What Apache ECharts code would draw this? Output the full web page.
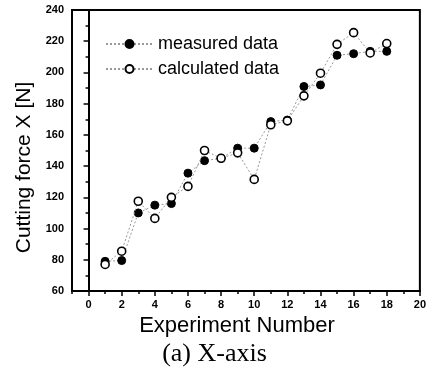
<!DOCTYPE html>
<html>
<head>
<meta charset="utf-8">
<script src="https://cdn.jsdelivr.net/npm/echarts@6/dist/echarts.min.js"></script>
<style>
  html, body { margin: 0; padding: 0; background: #fff; }
  #chart { width: 429px; height: 372px; }
</style>
</head>
<body>
<div id="chart"></div>
<script>
// Experiment index and the two force series (N)
const experiments = [1, 2, 3, 4, 5, 6, 7, 8, 9, 10, 11, 12, 13, 14, 15, 16, 17, 18];
const measured = [79, 79.5, 110, 115, 116, 135.5, 143.5, 145, 151.5, 151.5, 168.5, 169.5, 191, 192, 211, 212, 213.5, 213.5];
const calculated = [77, 85.5, 117.5, 106.5, 120, 127, 150, 145, 148.5, 131.5, 166.5, 169, 185, 199.5, 218, 225.5, 212.5, 218.5];

// Axis tick positions
const xMajorTicks = [0, 2, 4, 6, 8, 10, 12, 14, 16, 18, 20];
const xMinorTicks = [-1, 1, 3, 5, 7, 9, 11, 13, 15, 17, 19];

const FONT = "'Liberation Sans', Arial, sans-serif";

const pairs = (ys) => experiments.map((x, i) => [x, ys[i]]);

const chart = echarts.init(document.getElementById('chart'), null, { renderer: 'canvas' });

const baseX = {
  type: 'value',
  min: -1,
  max: 20,
  position: 'bottom',
  splitLine: { show: false }
};

chart.setOption({
  animation: false,
  backgroundColor: '#fff',
  title: {
    text: '(a) X-axis',
    left: 'center',
    top: 341,
    padding: 0,
    textStyle: { fontFamily: "'Liberation Serif', 'Times New Roman', serif", fontSize: 26, fontWeight: 'normal', color: '#000' }
  },
  grid: {
    left: 72, right: 6, top: 10, bottom: 81,
    show: true, borderColor: '#000', borderWidth: 2, backgroundColor: 'transparent'
  },
  legend: {
    left: 105,
    top: 35,
    orient: 'vertical',
    padding: 0,
    itemGap: 7,
    itemWidth: 47,
    itemHeight: 10,
    textStyle: { fontFamily: FONT, fontSize: 18, lineHeight: 18, color: '#000' },
    data: ['measured data', 'calculated data']
  },
  xAxis: [
    Object.assign({}, baseX, {
      name: 'Experiment Number',
      nameLocation: 'middle',
      nameGap: 20,
      nameTextStyle: { fontFamily: FONT, fontSize: 22, color: '#000', padding: [0, 18, 0, 0] },
      axisLine: { show: true, lineStyle: { color: '#000', width: 2 } },
      axisTick: { show: true, length: 5, customValues: xMajorTicks, lineStyle: { color: '#000', width: 1.5 } },
      axisLabel: {
        customValues: xMajorTicks,
        margin: 8,
        fontFamily: FONT, fontSize: 11, fontWeight: 'bold', color: '#000'
      }
    }),
    Object.assign({}, baseX, {
      axisLine: { show: false },
      axisTick: { show: true, length: 3, customValues: xMinorTicks, lineStyle: { color: '#000', width: 1.5 } },
      axisLabel: { show: false }
    })
  ],
  yAxis: {
    type: 'value',
    min: 60,
    max: 240,
    interval: 20,
    name: 'Cutting force X [N]',
    nameLocation: 'middle',
    nameGap: 36,
    nameTextStyle: { fontFamily: FONT, fontSize: 21, color: '#000', padding: [0, 34, 0, 0] },
    axisLine: { show: true, lineStyle: { color: '#000', width: 2 } },
    axisTick: { show: true, length: 5, lineStyle: { color: '#000', width: 1.5 } },
    minorTick: { show: true, splitNumber: 2, length: 3, lineStyle: { color: '#000', width: 1.5 } },
    splitLine: { show: false },
    axisLabel: { margin: 8, fontFamily: FONT, fontSize: 11, fontWeight: 'bold', color: '#000' }
  },
  series: [
    {
      name: 'measured data',
      type: 'line',
      data: pairs(measured),
      symbol: 'circle',
      symbolSize: 8,
      itemStyle: { color: '#000', borderColor: '#000', borderWidth: 1 },
      lineStyle: { color: '#999', width: 1, type: [2, 2] },
      z: 3
    },
    {
      name: 'calculated data',
      type: 'line',
      data: pairs(calculated),
      symbol: 'circle',
      symbolSize: 8,
      itemStyle: { color: '#fff', borderColor: '#000', borderWidth: 1.6 },
      lineStyle: { color: '#999', width: 1, type: [2, 2] },
      z: 4
    }
  ]
});
</script>
</body>
</html>
